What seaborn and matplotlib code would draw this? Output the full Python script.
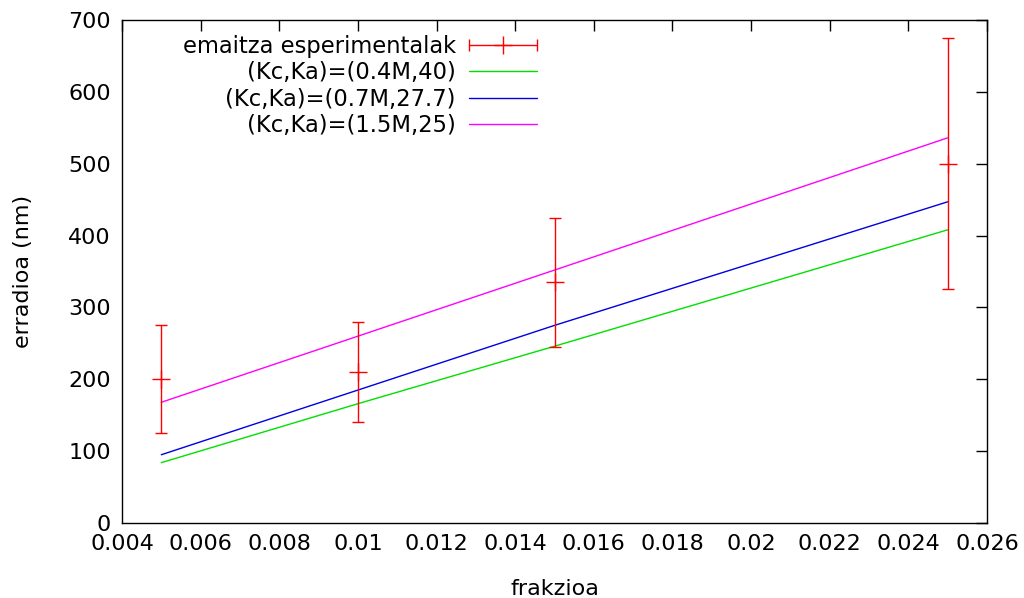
import numpy as np
import pandas as pd
import matplotlib
matplotlib.use("Agg")
import matplotlib.pyplot as plt
from matplotlib.ticker import FuncFormatter, MultipleLocator
from matplotlib.lines import Line2D
from matplotlib.container import ErrorbarContainer
from matplotlib.legend_handler import HandlerErrorbar
import seaborn as sns

# data
frakzioa = [0.005, 0.01, 0.015, 0.025]
erradioa = [200, 210, 335, 500]
err_low = [125, 140, 245, 325]
err_high = [275, 280, 425, 675]

model_x = [0.005, 0.01, 0.015, 0.025]
green_vals = [84, 166, 246, 408]
blue_vals = [95, 185, 275, 447]
magenta_vals = [168, 260, 352, 536]

labels = ["emaitza esperimentalak", "(Kc,Ka)=(0.4M,40)",
          "(Kc,Ka)=(0.7M,27.7)", "(Kc,Ka)=(1.5M,25)"]
x_label = "frakzioa"
y_label = "erradioa (nm)"

sns.set_theme(style="white")
plt.rcParams['font.family'] = ['DejaVu Sans']
plt.rcParams['text.color'] = 'black'
plt.rcParams['axes.labelcolor'] = 'black'
FS = 16

fig = plt.figure(figsize=(10.24, 5.98), dpi=100)
ax = fig.add_axes([122/1024, 1-523/598, (987-122)/1024, (523-20)/598])

df = pd.DataFrame({"x": model_x * 3,
                   "y": green_vals + blue_vals + magenta_vals,
                   "s": [labels[1]]*4 + [labels[2]]*4 + [labels[3]]*4})
sns.lineplot(data=df, x="x", y="y", hue="s",
             palette=["#00e000", "#0000e0", "#ff00ff"],
             linewidth=1.0, ax=ax, legend=False)

yerr = [np.array(erradioa) - np.array(err_low), np.array(err_high) - np.array(erradioa)]
ax.errorbar(frakzioa, erradioa, yerr=yerr, fmt='+', color='red',
            markersize=13, markeredgewidth=1.0, elinewidth=1.0,
            capsize=4.5, capthick=1.0, zorder=5)

# legend proxy (horizontal error bar sample, like gnuplot)
proxy = ax.errorbar([np.nan], [np.nan], xerr=[[np.nan], [np.nan]], fmt='+', color='red',
                    markersize=13, markeredgewidth=1.0, elinewidth=1.0,
                    capsize=4.5, capthick=1.0)
handles = [proxy,
           Line2D([], [], color="#00e000", lw=1.0),
           Line2D([], [], color="#0000e0", lw=1.0),
           Line2D([], [], color="#ff00ff", lw=1.0)]
ax.legend(handles, labels, loc="upper left", bbox_to_anchor=(0.053, 1.0),
          frameon=False, markerfirst=False, fontsize=16.3,
          handlelength=3.0, handletextpad=0.6, labelspacing=0.15,
          borderaxespad=0.25,
          handler_map={ErrorbarContainer: HandlerErrorbar(xerr_size=1.5)})

ax.set_xlim(0.004, 0.026)
ax.set_ylim(0, 700)
ax.xaxis.set_major_locator(MultipleLocator(0.002))
ax.yaxis.set_major_locator(MultipleLocator(100))
ax.xaxis.set_major_formatter(FuncFormatter(lambda v, p: "%g" % round(v, 6)))
ax.yaxis.set_major_formatter(FuncFormatter(lambda v, p: "%g" % v))
ax.tick_params(direction="in", length=8, width=1, top=True, right=True,
               labelsize=FS, colors="black", pad=8)
for s in ax.spines.values():
    s.set_color("black")
    s.set_linewidth(1.0)
ax.set_xlabel(x_label, fontsize=FS, labelpad=18)
ax.set_ylabel(y_label, fontsize=FS, labelpad=25)

fig.savefig("out.png", dpi=100)
